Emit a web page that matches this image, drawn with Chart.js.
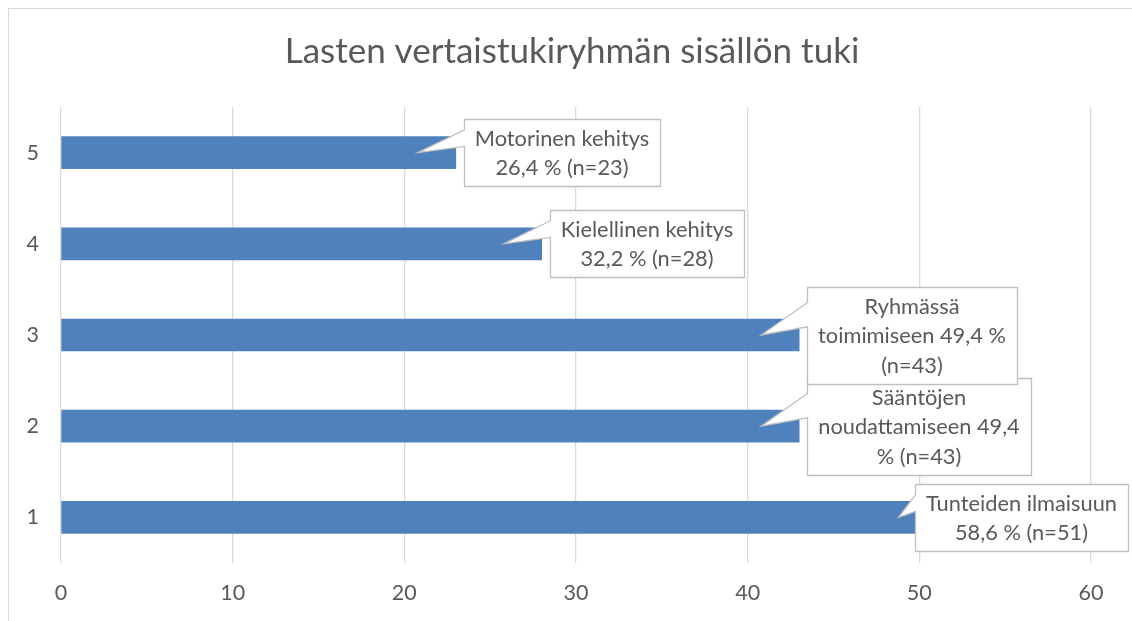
<!DOCTYPE html>
<html>
<head>
<meta charset="utf-8">
<script src="https://cdn.jsdelivr.net/npm/chart.js@4.4.1/dist/chart.umd.min.js"></script>
<style>
  html, body { margin: 0; padding: 0; background: #ffffff; }
  #wrap { position: relative; width: 1132px; height: 621px; }
</style>
</head>
<body>
<div id="wrap"><canvas id="c" width="1132" height="621"></canvas></div>
<script>
// ---- data ----
const categories = ['1', '2', '3', '4', '5'];
const counts = [51, 43, 43, 28, 23];
const calloutLabels = [
  ['Tunteiden ilmaisuun', '58,6 % (n=51)'],
  ['Sääntöjen', 'noudattamiseen 49,4', '% (n=43)'],
  ['Ryhmässä', 'toimimiseen 49,4 %', '(n=43)'],
  ['Kielellinen kehitys', '32,2 % (n=28)'],
  ['Motorinen kehitys', '26,4 % (n=23)']
];
const titleText = 'Lasten vertaistukiryhmän sisällön tuki';
const xTickMax = 60;
const xTickStep = 10;

// ---- styles ----
const FONT = 'Lato, "Open Sans", "Noto Sans", sans-serif';
const TEXT = '#595959';
const GRID = '#d9d9d9';
const BAR = '#4f81bd';

const frame = {
  id: 'frame',
  beforeDraw(chart) {
    const ctx = chart.ctx;
    ctx.save();
    ctx.fillStyle = '#ffffff';
    ctx.fillRect(0, 0, chart.width, chart.height);
    ctx.strokeStyle = '#d9d9d9';
    ctx.lineWidth = 1;
    ctx.strokeRect(8.5, 8.5, chart.width + 50, chart.height + 50);
    ctx.restore();
  },
  afterDraw(chart) {
    const ctx = chart.ctx;
    ctx.save();
    ctx.font = '35px ' + FONT;
    ctx.fillStyle = TEXT;
    ctx.textAlign = 'center';
    ctx.textBaseline = 'middle';
    ctx.fillText(titleText, 572, 52);
    ctx.restore();
  }
};

const callouts = {
  id: 'callouts',
  afterDatasetsDraw(chart) {
    const ctx = chart.ctx;
    const meta = chart.getDatasetMeta(0);
    const fontSize = 21.8;
    const lineH = 29.5;
    const padX = 11, padY = 4;
    ctx.save();
    ctx.font = fontSize + 'px ' + FONT;
    meta.data.forEach((bar, i) => {
      const lines = calloutLabels[i];
      const tw = Math.max(...lines.map(l => ctx.measureText(l).width));
      const w = Math.round(tw + 2 * padX);
      const h = Math.round(lines.length * lineH + 2 * padY);
      const endX = bar.x;
      const cy = bar.y;
      let bx = Math.round(endX + 8);
      if (bx + w > chart.width - 4) bx = chart.width - 4 - w;
      const by = Math.round(cy - h / 2);
      const tipX = endX - 38;
      const tipY = cy;
      ctx.beginPath();
      ctx.moveTo(bx + 0.5, by + 0.5);
      ctx.lineTo(bx + w + 0.5, by + 0.5);
      ctx.lineTo(bx + w + 0.5, by + h + 0.5);
      ctx.lineTo(bx + 0.5, by + h + 0.5);
      ctx.lineTo(bx + 0.5, by + h * 0.41);
      ctx.lineTo(tipX, tipY);
      ctx.lineTo(bx + 0.5, by + h * 0.16);
      ctx.closePath();
      ctx.fillStyle = '#ffffff';
      ctx.fill();
      ctx.strokeStyle = '#bfbfbf';
      ctx.lineWidth = 1.3;
      ctx.stroke();
      ctx.fillStyle = TEXT;
      ctx.textAlign = 'center';
      ctx.textBaseline = 'middle';
      lines.forEach((l, k) => {
        ctx.fillText(l, bx + w / 2, by + padY + lineH * (k + 0.5) + 1);
      });
    });
    ctx.restore();
  }
};

new Chart(document.getElementById('c'), {
  type: 'bar',
  data: {
    labels: categories,
    datasets: [{
      data: counts,
      backgroundColor: BAR,
      borderWidth: 0,
      barThickness: 32
    }]
  },
  options: {
    indexAxis: 'y',
    responsive: false,
    animation: false,
    devicePixelRatio: 1,
    layout: { padding: { left: 0, right: 41, top: 107, bottom: 0 } },
    plugins: {
      legend: { display: false },
      tooltip: { enabled: false },
      title: { display: false }
    },
    scales: {
      x: {
        min: 0,
        max: xTickMax,
        ticks: { stepSize: xTickStep, color: TEXT, font: { family: FONT, size: 21.5 }, padding: 17 },
        grid: { color: GRID, lineWidth: 1.3, drawTicks: false },
        border: { display: false },
        afterFit(s) { s.height = 58; }
      },
      y: {
        reverse: true,
        ticks: { color: TEXT, font: { family: FONT, size: 21.5 }, padding: 22 },
        grid: { display: false, drawTicks: false },
        border: { display: false },
        afterFit(s) { s.width = 61; }
      }
    }
  },
  plugins: [frame, callouts]
});
</script>
</body>
</html>
